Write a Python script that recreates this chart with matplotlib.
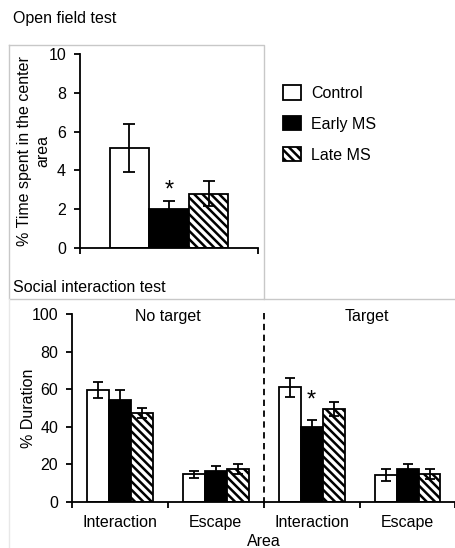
import matplotlib
matplotlib.use("Agg")
import matplotlib.pyplot as plt
from matplotlib.patches import Patch
from matplotlib.lines import Line2D

plt.rcParams["font.family"] = ["Liberation Sans", "DejaVu Sans"]
plt.rcParams["font.size"] = 11.5
plt.rcParams["hatch.linewidth"] = 1.8

# ---- data ----
groups = ["Control", "Early MS", "Late MS"]

# open field test: % time in center
of_mean = [5.15, 2.0, 2.8]
of_err = [1.25, 0.4, 0.65]

# social interaction test: % duration
si_cats = ["Interaction", "Escape", "Interaction", "Escape"]
si_control = [59.5, 14.7, 61.0, 14.5]
si_control_err = [4.2, 2.0, 5.0, 3.2]
si_early = [54.5, 16.5, 39.9, 17.7]
si_early_err = [5.0, 2.6, 3.7, 2.7]
si_late = [47.5, 17.7, 49.6, 14.9]
si_late_err = [2.7, 2.7, 3.6, 2.5]

FACE = ["white", "black", "white"]
HATCH = [None, None, "\\\\\\\\"]

W, H = 456, 548
fig = plt.figure(figsize=(W / 100, H / 100), dpi=100)


def fx(px):
    return px / W


def fy(py):
    return 1 - py / H


# gray frames of the two chart objects
gray = "#c8c8c8"
for xs, ys, c in [
    ([9, 264, 264, 9, 9], [45, 45, 299, 299, 45], gray),
    ([264, 456], [299, 299], gray),
    ([9, 9], [299, 548], "#e8e8e8"),
]:
    fig.add_artist(Line2D([fx(v) for v in xs], [fy(v) for v in ys],
                          color=c, lw=1.0, transform=fig.transFigure))

fig.text(fx(13), fy(18), "Open field test", ha="left", va="center")
fig.text(fx(13), fy(287), "Social interaction test", ha="left", va="center")


def style_axes(ax):
    for s in ("top", "right"):
        ax.spines[s].set_visible(False)
    for s in ("left", "bottom"):
        ax.spines[s].set_linewidth(1.3)
    ax.tick_params(axis="y", direction="out", length=4, width=1.3, pad=6)
    ax.tick_params(axis="x", which="major", direction="out", length=4.5,
                   width=1.3, labelbottom=False)
    ax.tick_params(axis="x", which="minor", length=0, pad=9.5)


# ---- top: open field ----
ax1 = fig.add_axes([fx(80), fy(248), fx(258) - fx(80), fy(54) - fy(248)])
bw = 0.222
for i in range(3):
    x = (i - 1) * bw
    ax1.bar(x, of_mean[i], width=bw, color=FACE[i], edgecolor="black",
            linewidth=1.3, hatch=HATCH[i], zorder=2)
    ax1.errorbar(x, of_mean[i], yerr=of_err[i], fmt="none", ecolor="black",
                 elinewidth=1.3, capsize=4.3, capthick=1.3, zorder=3)
ax1.set_xlim(-0.5, 0.5)
ax1.set_ylim(0, 10)
ax1.set_yticks([0, 2, 4, 6, 8, 10])
ax1.set_xticks([-0.5, 0.5])
style_axes(ax1)
ax1.set_ylabel("% Time spent in the center\narea", linespacing=1.3)
ax1.yaxis.set_label_coords(-0.165, 0.5)
ax1.text(0, 2.95, "*", ha="center", va="center", fontsize=17)

handles = [Patch(facecolor=FACE[i], edgecolor="black", linewidth=1.3,
                 hatch=HATCH[i], label=groups[i]) for i in range(3)]
fig.legend(handles=handles, loc="upper left", bbox_to_anchor=(fx(269), fy(71)),
           frameon=False, handlelength=1.1, handleheight=1.0,
           handletextpad=0.65, labelspacing=0.95)

# ---- bottom: social interaction ----
ax2 = fig.add_axes([fx(72), fy(502), fx(455.5) - fx(72), fy(314) - fy(502)])
bw2 = 0.229
series = [(si_control, si_control_err), (si_early, si_early_err),
          (si_late, si_late_err)]
xs = list(range(len(si_cats)))
for i, (m, e) in enumerate(series):
    pos = [x + (i - 1) * bw2 for x in xs]
    ax2.bar(pos, m, width=bw2, color=FACE[i], edgecolor="black",
            linewidth=1.3, hatch=HATCH[i], zorder=2)
    ax2.errorbar(pos, m, yerr=e, fmt="none", ecolor="black",
                 elinewidth=1.3, capsize=3.6, capthick=1.3, zorder=3)
ax2.set_xlim(-0.5, 3.5)
ax2.set_ylim(0, 100)
ax2.set_yticks([0, 20, 40, 60, 80, 100])
ax2.set_xticks([-0.5, 0.5, 1.5, 2.5, 3.5])
ax2.set_xticks(xs, minor=True)
ax2.set_xticklabels(si_cats, minor=True)
style_axes(ax2)
ax2.set_ylabel("% Duration")
ax2.yaxis.set_label_coords(-0.095, 0.5)
ax2.set_xlabel("Area", labelpad=3)
ax2.plot([1.5, 1.5], [100.5, -3], color="black", lw=1.3,
         ls=(0, (3.5, 2.5)), clip_on=False, zorder=4)
ax2.text(0.5, 98.5, "No target", ha="center", va="center")
ax2.text(2.58, 98.5, "Target", ha="center", va="center")
ax2.text(2, 54, "*", ha="center", va="center", fontsize=17)

fig.savefig("out.png", dpi=100)
